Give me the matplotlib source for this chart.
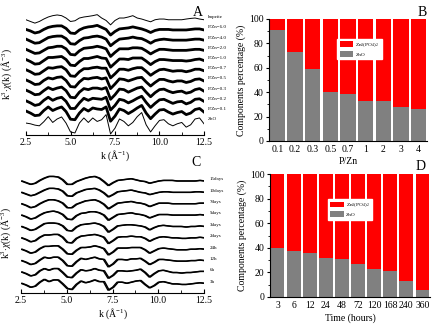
import numpy as np
import matplotlib
matplotlib.use("Agg")
import matplotlib.pyplot as plt
import matplotlib.transforms as mtransforms

plt.rcParams['font.family'] = ['Liberation Serif', 'DejaVu Serif']
plt.rcParams['mathtext.fontset'] = 'custom'
plt.rcParams['mathtext.rm'] = 'Liberation Serif'
plt.rcParams['mathtext.it'] = 'Liberation Serif:italic'

# ---------------- data ----------------
k = [2.5, 2.75, 3.0, 3.25, 3.5, 3.75, 4.0, 4.25, 4.5, 4.75, 5.0, 5.25, 5.5, 5.75,
     6.0, 6.25, 6.5, 6.75, 7.0, 7.25, 7.5, 7.75, 8.0, 8.25, 8.5, 8.75, 9.0, 9.25,
     9.5, 9.75, 10.0, 10.25, 10.5, 10.75, 11.0, 11.25, 11.5, 11.75, 12.0, 12.25, 12.5]

# Panel A (bottom to top)
a_labels = ['ZnO', 'P/Zn=0.1', 'P/Zn=0.2', 'P/Zn=0.3', 'P/Zn=0.5', 'P/Zn=0.7',
            'P/Zn=1.0', 'P/Zn=2.0', 'P/Zn=4.0', 'P/Zn=6.0', 'hopeite']
a_zno = [-0.13, -0.2, -0.33, -0.4, 0.0, 0.5, -0.07, 0.27, 0.47, -0.13, -1.0, -1.1,
         -0.13, 0.37, -0.07, 0.37, 0.03, 0.2, 0.7, -1.2, -0.63, 0.27, 0.03, -0.4,
         -0.07, 0.5, 0.9, -0.3, -1.0, -0.4, 0.13, 0.2, -0.2, -0.4, -0.2, -0.07,
         -0.53, -0.3, 0.27, 0.37, -0.2]
a_p01 = [0.05, -0.15, -0.4, -0.35, 0.1, 0.45, 0.1, 0.3, 0.45, 0.0, -0.75, -0.8, -0.15,
         0.3, 0.05, 0.35, 0.25, 0.2, 0.45, -0.95, -0.45, 0.25, 0.1, -0.2, 0.05, 0.35,
         0.6, -0.15, -0.7, -0.25, 0.15, 0.2, -0.05, -0.25, -0.1, 0.0, -0.3, -0.15,
         0.2, 0.3, -0.05]
a_p02 = [0.05, -0.15, -0.4, -0.3, 0.1, 0.4, 0.1, 0.3, 0.4, 0.0, -0.7, -0.7, -0.15,
         0.3, 0.1, 0.3, 0.25, 0.2, 0.4, -0.85, -0.4, 0.2, 0.1, -0.15, 0.05, 0.3, 0.5,
         -0.1, -0.6, -0.2, 0.15, 0.2, 0.0, -0.2, -0.05, 0.0, -0.25, -0.1, 0.2, 0.25, 0.0]
a_p03 = [0.1, -0.1, -0.35, -0.3, 0.05, 0.35, 0.15, 0.3, 0.4, 0.05, -0.6, -0.65, -0.1,
         0.25, 0.15, 0.3, 0.3, 0.2, 0.35, -0.8, -0.35, 0.2, 0.15, -0.1, 0.1, 0.3, 0.4,
         -0.1, -0.55, -0.15, 0.15, 0.2, 0.0, -0.15, -0.05, 0.0, -0.2, -0.1, 0.15, 0.25, 0.0]
a_p05 = [0.1, -0.1, -0.35, -0.3, 0.05, 0.3, 0.2, 0.35, 0.4, 0.05, -0.55, -0.6, -0.1,
         0.25, 0.2, 0.3, 0.35, 0.2, 0.3, -0.75, -0.3, 0.2, 0.15, 0.0, 0.15, 0.3, 0.35,
         -0.1, -0.5, -0.15, 0.15, 0.15, 0.0, -0.1, 0.0, 0.0, -0.15, -0.05, 0.15, 0.2, 0.0]
a_p07 = [0.1, -0.1, -0.35, -0.3, 0.0, 0.3, 0.25, 0.35, 0.4, 0.1, -0.5, -0.55, -0.1,
         0.2, 0.2, 0.3, 0.35, 0.25, 0.25, -0.7, -0.3, 0.15, 0.15, 0.05, 0.2, 0.3, 0.3,
         -0.05, -0.45, -0.15, 0.1, 0.15, 0.05, -0.05, 0.0, 0.0, -0.1, 0.0, 0.15, 0.15, 0.0]
a_p10 = [0.1, -0.1, -0.35, -0.3, 0.0, 0.3, 0.3, 0.35, 0.4, 0.1, -0.45, -0.5, -0.1,
         0.2, 0.2, 0.3, 0.4, 0.25, 0.2, -0.65, -0.25, 0.15, 0.15, 0.1, 0.25, 0.25, 0.25,
         -0.05, -0.4, -0.1, 0.1, 0.1, 0.05, 0.0, 0.0, 0.0, -0.05, 0.0, 0.1, 0.15, 0.0]
a_p20 = [0.1, -0.1, -0.3, -0.25, 0.0, 0.25, 0.3, 0.4, 0.4, 0.15, -0.4, -0.45, -0.05,
         0.2, 0.25, 0.3, 0.4, 0.3, 0.15, -0.6, -0.2, 0.15, 0.15, 0.15, 0.25, 0.25, 0.2,
         -0.05, -0.35, -0.1, 0.1, 0.1, 0.05, 0.0, 0.0, 0.0, 0.0, 0.05, 0.1, 0.1, 0.0]
a_p40 = [0.1, -0.1, -0.3, -0.25, 0.0, 0.25, 0.35, 0.4, 0.4, 0.15, -0.35, -0.4, -0.05,
         0.2, 0.25, 0.35, 0.4, 0.3, 0.1, -0.55, -0.2, 0.1, 0.15, 0.2, 0.3, 0.2, 0.15,
         -0.05, -0.3, -0.05, 0.05, 0.1, 0.05, 0.0, 0.0, 0.0, 0.0, 0.05, 0.1, 0.1, 0.0]
a_p60 = [0.05, -0.1, -0.3, -0.2, 0.05, 0.25, 0.35, 0.4, 0.4, 0.15, -0.3, -0.35, 0.0,
         0.2, 0.3, 0.35, 0.45, 0.25, 0.05, -0.5, -0.15, 0.1, 0.15, 0.2, 0.3, 0.2, 0.1,
         -0.05, -0.25, -0.05, 0.05, 0.05, 0.05, 0.0, 0.0, 0.0, 0.0, 0.05, 0.1, 0.1, 0.0]
a_hop = [0.0, -0.17, -0.33, -0.17, 0.07, 0.27, 0.4, 0.47, 0.4, 0.17, -0.17, -0.1, 0.17,
         0.27, 0.33, 0.4, 0.5, 0.17, -0.07, -0.5, -0.07, 0.17, 0.17, 0.27, 0.4, 0.17,
         0.07, -0.07, -0.2, 0.0, 0.07, 0.07, 0.0, 0.0, 0.0, 0.0, 0.07, 0.13, 0.17, 0.07, 0.0]
a_curves = [a_zno, a_p01, a_p02, a_p03, a_p05, a_p07, a_p10, a_p20, a_p40, a_p60, a_hop]

# Panel C (bottom to top)
c_labels = ['3h', '6h', '12h', '24h', '2days', '3days', '5days', '7days', '10days', '15days']
c_3h = [0.05, -0.1, -0.3, -0.2, 0.15, 0.4, 0.2, 0.35, 0.35, 0.0, -0.4, -0.5, -0.05, 0.25,
        0.1, 0.2, 0.35, 0.2, 0.2, -0.55, -0.3, 0.15, 0.15, 0.05, 0.15, 0.25, 0.3, -0.05,
        -0.35, -0.15, 0.15, 0.2, 0.1, 0.0, 0.0, -0.05, -0.05, 0.0, 0.05, 0.1, 0.05]
c_6h = [0.05, -0.1, -0.3, -0.2, 0.15, 0.35, 0.2, 0.35, 0.35, 0.0, -0.4, -0.45, -0.05, 0.25,
        0.15, 0.2, 0.35, 0.2, 0.15, -0.5, -0.25, 0.15, 0.15, 0.1, 0.15, 0.2, 0.3, 0.0,
        -0.4, -0.1, 0.15, 0.2, 0.1, 0.0, 0.0, -0.05, 0.0, 0.0, 0.05, 0.1, 0.1]
c_12h = [0.05, -0.1, -0.3, -0.2, 0.1, 0.35, 0.25, 0.35, 0.35, 0.05, -0.4, -0.45, -0.05, 0.25,
         0.15, 0.25, 0.35, 0.2, 0.15, -0.5, -0.25, 0.15, 0.15, 0.1, 0.2, 0.2, 0.25, 0.0,
         -0.3, -0.1, 0.15, 0.15, 0.1, 0.05, 0.0, 0.0, 0.0, 0.05, 0.05, 0.1, 0.05]
c_24h = [0.05, -0.1, -0.3, -0.2, 0.1, 0.3, 0.3, 0.35, 0.35, 0.05, -0.35, -0.4, -0.05, 0.2,
         0.2, 0.25, 0.35, 0.25, 0.1, -0.45, -0.2, 0.15, 0.15, 0.15, 0.2, 0.2, 0.2, 0.0,
         -0.3, -0.1, 0.1, 0.15, 0.1, 0.05, 0.0, 0.0, 0.0, 0.05, 0.05, 0.1, 0.05]
c_2d = [0.05, -0.1, -0.3, -0.2, 0.1, 0.3, 0.3, 0.35, 0.35, 0.1, -0.35, -0.4, 0.0, 0.2,
        0.25, 0.3, 0.35, 0.25, 0.1, -0.45, -0.2, 0.1, 0.15, 0.15, 0.2, 0.15, 0.15, 0.0,
        -0.25, -0.05, 0.1, 0.15, 0.1, 0.05, 0.05, 0.0, 0.0, 0.05, 0.05, 0.1, 0.05]
c_3d = [0.05, -0.1, -0.3, -0.2, 0.05, 0.3, 0.35, 0.35, 0.3, 0.1, -0.3, -0.35, 0.0, 0.2,
        0.25, 0.3, 0.35, 0.25, 0.05, -0.45, -0.2, 0.1, 0.15, 0.2, 0.2, 0.15, 0.1, 0.0,
        -0.25, -0.05, 0.1, 0.15, 0.1, 0.05, 0.05, 0.05, 0.0, 0.05, 0.05, 0.1, 0.05]
c_5d = [0.05, -0.1, -0.3, -0.2, 0.05, 0.25, 0.35, 0.4, 0.3, 0.1, -0.3, -0.35, 0.0, 0.2,
        0.25, 0.35, 0.35, 0.25, 0.05, -0.4, -0.15, 0.1, 0.15, 0.2, 0.25, 0.15, 0.1, 0.0,
        -0.2, -0.05, 0.1, 0.1, 0.1, 0.05, 0.05, 0.05, 0.05, 0.05, 0.05, 0.1, 0.05]
c_7d = [0.05, -0.1, -0.3, -0.2, 0.05, 0.25, 0.4, 0.4, 0.3, 0.1, -0.3, -0.3, 0.0, 0.15,
        0.3, 0.35, 0.4, 0.25, 0.0, -0.4, -0.15, 0.1, 0.15, 0.2, 0.25, 0.15, 0.1, 0.0,
        -0.2, -0.05, 0.1, 0.1, 0.1, 0.05, 0.05, 0.05, 0.05, 0.05, 0.05, 0.1, 0.1]
c_10d = [0.05, -0.1, -0.25, -0.15, 0.05, 0.25, 0.4, 0.4, 0.35, 0.15, -0.25, -0.3, 0.0, 0.15,
         0.3, 0.35, 0.4, 0.25, 0.0, -0.35, -0.15, 0.1, 0.15, 0.2, 0.25, 0.15, 0.05, 0.0,
         -0.15, -0.05, 0.05, 0.1, 0.1, 0.05, 0.05, 0.05, 0.05, 0.05, 0.1, 0.1, 0.05]
c_15d = [0.05, -0.1, -0.25, -0.15, 0.1, 0.3, 0.45, 0.45, 0.4, 0.15, -0.25, -0.25, 0.0, 0.15,
         0.3, 0.4, 0.45, 0.3, 0.0, -0.35, -0.1, 0.1, 0.15, 0.2, 0.25, 0.15, 0.05, 0.0,
         -0.15, -0.05, 0.05, 0.1, 0.1, 0.1, 0.05, 0.05, 0.05, 0.05, 0.05, 0.1, 0.05]
c_curves = [c_3h, c_6h, c_12h, c_24h, c_2d, c_3d, c_5d, c_7d, c_10d, c_15d]

# Panel B
b_cats = ['0.1', '0.2', '0.3', '0.5', '0.7', '1', '2', '3', '4']
b_zno = [91, 73, 59, 40, 38.5, 32.5, 32.5, 27.5, 26]
b_zp = [9, 27, 41, 60, 61.5, 67.5, 67.5, 72.5, 74]

# Panel D
d_cats = ['3', '6', '12', '24', '48', '72', '120', '168', '240', '360']
d_zno = [40, 37, 35.5, 32, 31, 27, 23, 21.5, 13, 6]
d_zp = [60, 63, 64.5, 68, 69, 73, 77, 78.5, 87, 94]

RED = '#ff0000'
GRAY = '#808080'
FS = 7

fig = plt.figure(figsize=(4.41, 3.25), dpi=100)
W, H = 441.0, 325.0


def fax(l, t, r, b):
    return fig.add_axes([l / W, 1 - b / H, (r - l) / W, (b - t) / H])


def style_k_axis(ax):
    for s in ['left', 'right', 'top']:
        ax.spines[s].set_visible(False)
    ax.set_yticks([])
    ax.set_xlim(2.5, 12.5)
    ax.set_xticks([2.5, 5.0, 7.5, 10.0, 12.5])
    ax.set_xticklabels(['2.5', '5.0', '7.5', '10.0', '12.5'])
    ax.set_xticks([3.75, 6.25, 8.75, 11.25], minor=True)
    ax.tick_params(axis='x', direction='in', length=3, width=0.8, labelsize=FS, pad=2)
    ax.tick_params(axis='x', which='minor', direction='in', length=2, width=0.6)
    ax.patch.set_alpha(0)


ylab = r'k$^{3}$$\cdot$$\chi$(k) (Å$^{-3}$)'

# ---- Panel A ----
axA = fax(26, 12, 204, 135)
style_k_axis(axA)
for i, (lab, cur) in enumerate(zip(a_labels, a_curves)):
    y = np.array(cur) + i
    thin = (i == 0 or i == len(a_curves) - 1)
    axA.plot(k, y, color='black', lw=0.7 if thin else 2.0, solid_joinstyle='round')
    axA.text(12.72, i + 0.25, lab, fontsize=3.6, va='center', ha='left', clip_on=False)
axA.set_ylim(-1.3, 10.76)
axA.set_xlabel('k (Å$^{-1}$)', fontsize=FS, labelpad=1)
axA.set_ylabel(ylab, fontsize=FS)
axA.yaxis.set_label_coords(-0.07, 0.5)
fig.text(198 / W, 1 - 12 / H, 'A', fontsize=10, ha='center', va='center')

# ---- Panel C ----
axC = fax(21, 172, 204, 293)
style_k_axis(axC)
off = mtransforms.ScaledTranslation(1.2 / 100, 0, fig.dpi_scale_trans)
for i, (lab, cur) in enumerate(zip(c_labels, c_curves)):
    y = np.array(cur) + i
    axC.plot(k, y, color='black', lw=1.0)
    axC.plot(k, y, color='black', lw=1.0, transform=axC.transData + off)
    axC.text(12.82, i + 0.2, lab, fontsize=3.6, va='center', ha='left', clip_on=False)
axC.set_ylim(-0.8, 9.84)
axC.set_xlabel('k (Å$^{-1}$)', fontsize=FS, labelpad=1)
axC.set_ylabel(ylab, fontsize=FS)
axC.yaxis.set_label_coords(-0.042, 0.5)
fig.text(196 / W, 1 - 163 / H, 'C', fontsize=10, ha='center', va='center')


def bar_panel(ax, cats, zno, zp, xlabel):
    x = np.arange(len(cats))
    ax.bar(x, zno, width=0.86, color=GRAY, label='ZnO')
    ax.bar(x, zp, width=0.86, bottom=zno, color=RED, label='Zn$_3$(PO$_4$)$_2$')
    ax.set_xlim(-0.47, len(cats) - 0.53)
    ax.set_ylim(0, 100)
    ax.set_xticks(x)
    ax.set_xticklabels(cats)
    ax.set_yticks([0, 20, 40, 60, 80, 100])
    ax.set_yticks([10, 30, 50, 70, 90], minor=True)
    ax.tick_params(axis='x', length=0, labelsize=FS, pad=3)
    ax.tick_params(axis='y', direction='out', length=2.5, width=0.8, labelsize=FS, pad=1.5)
    ax.tick_params(axis='y', which='minor', direction='out', length=1.5, width=0.6)
    for s in ['right', 'top']:
        ax.spines[s].set_visible(False)
    ax.set_xlabel(xlabel, fontsize=FS, labelpad=2)
    ax.set_ylabel('Components percentage (%)', fontsize=FS, labelpad=2)
    h, l = ax.get_legend_handles_labels()
    return h[::-1], l[::-1]


# ---- Panel B ----
axB = fax(269, 19, 427, 141)
h, l = bar_panel(axB, b_cats, b_zno, b_zp, 'P/Zn')
axB.legend(h, l, loc='upper left', bbox_to_anchor=(0.43, 0.84), fontsize=3.8,
           frameon=True, fancybox=False, edgecolor='white', framealpha=1,
           handlelength=2.6, handleheight=1.3, borderpad=0.5, labelspacing=0.4,
           handletextpad=0.4, borderaxespad=0)
fig.text(422 / W, 1 - 12 / H, 'B', fontsize=10, ha='center', va='center')

# ---- Panel D ----
axD = fax(270, 174, 430, 297)
h, l = bar_panel(axD, d_cats, d_zno, d_zp, 'Time (hours)')
axD.legend(h, l, loc='upper left', bbox_to_anchor=(0.36, 0.80), fontsize=3.8,
           frameon=True, fancybox=False, edgecolor='white', framealpha=1,
           handlelength=2.6, handleheight=1.3, borderpad=0.5, labelspacing=0.4,
           handletextpad=0.4, borderaxespad=0)
fig.text(421 / W, 1 - 166 / H, 'D', fontsize=10, ha='center', va='center')

fig.savefig('out.png', dpi=100)
